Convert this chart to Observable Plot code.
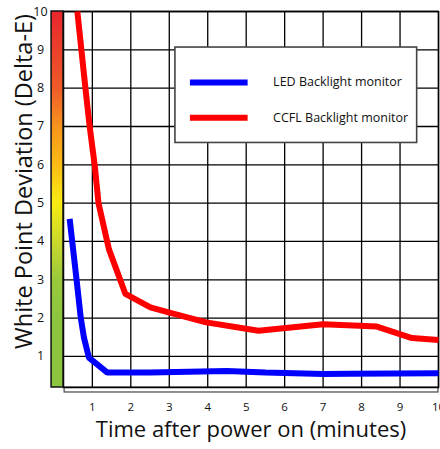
<!DOCTYPE html>
<html>
<head>
<meta charset="utf-8">
<script src="https://cdn.jsdelivr.net/npm/d3@7"></script>
<script src="https://cdn.jsdelivr.net/npm/@observablehq/plot@0.6"></script>
<style>
  html, body { margin: 0; padding: 0; background: #fff; }
  svg { display: block; }
</style>
</head>
<body>
<div id="chart"></div>
<script>
// ---- data ----
const ledX  = [0.41, 0.59, 0.70, 0.78, 0.91, 1.39, 2.5, 4.5, 5.5, 7.0, 7.7, 10];
const ledY  = [4.59, 3.0, 2.0, 1.5, 0.97, 0.58, 0.58, 0.62, 0.58, 0.54, 0.55, 0.56];
const ccflX = [0.61, 0.82, 0.93, 1.06, 1.16, 1.43, 1.86, 2.51, 2.98, 3.96, 5.32, 7.0, 8.4, 9.31, 10];
const ccflY = [10.0, 8.0, 7.0, 6.0, 5.0, 3.8, 2.63, 2.28, 2.15, 1.89, 1.67, 1.84, 1.78, 1.48, 1.43];
const seriesNames = ["LED Backlight monitor", "CCFL Backlight monitor"];
const seriesColors = ["#0000ff", "#ff0000"];
const xTicks = [1, 2, 3, 4, 5, 6, 7, 8, 9, 10];
const yTicks = [1, 2, 3, 4, 5, 6, 7, 8, 9, 10];
const xLabel = "Time after power on (minutes)";
const yLabel = "White Point Deviation (Delta-E)";
// colour bar stops (value, colour)
const barValues = [10, 8, 7, 6, 5, 4, 3, 2, 0.19];
const barColors = ["#e8262d", "#ef5a28", "#f7941d", "#fbbb15", "#f8ec12", "#cbd92c", "#9ac93b", "#8cc63f", "#8cc63f"];

// ---- layout (not data) ----
const xDomain = [0.25, 10];
const yDomain = [0.19, 10];
const font = "'Open Sans', sans-serif";

const led = ledX.map((x, i) => ({x, y: ledY[i], s: seriesNames[0]}));
const ccfl = ccflX.map((x, i) => ({x, y: ccflY[i], s: seriesNames[1]}));

// legend geometry in data units
const legendBox = {x1: 3.16, x2: 9.445, y1: 6.57, y2: 9.06};
const legendRows = [8.15, 7.23];
const legendItems = seriesNames.map((n, i) => ({name: n, color: seriesColors[i], y: legendRows[i]}));

const chart = Plot.plot({
  width: 440,
  height: 449,
  marginLeft: 63,
  marginRight: 2,
  marginTop: 11,
  marginBottom: 62,
  style: {fontFamily: font, background: "#fff", overflow: "visible"},
  x: {domain: xDomain},
  y: {domain: yDomain},
  marks: [
    // shadow box under plot
    Plot.rect([0], {x1: 0.28, x2: 10, y1: 0.06, y2: 0.19, fill: "white", stroke: "#555", strokeWidth: 1.3}),
    Plot.gridX(xTicks, {stroke: "#000", strokeOpacity: 1, strokeWidth: 1.3}),
    Plot.gridY(yTicks, {stroke: "#000", strokeOpacity: 1, strokeWidth: 1.3}),
    Plot.frame({stroke: "#000", strokeWidth: 1.5}),
    // colour bar
    Plot.rect([0], {x1: -0.06, x2: 0.25, y1: yDomain[0], y2: 10, fill: "url(#cbar)", stroke: "#111", strokeWidth: 1.5}),
    // legend box
    Plot.rect([legendBox], {x1: "x1", x2: "x2", y1: "y1", y2: "y2", fill: "white", stroke: "#444", strokeWidth: 1.6}),
    Plot.ruleY(legendItems, {y: "y", x1: 3.55, x2: 5.05, stroke: "color", strokeWidth: 6}),
    Plot.text(legendItems, {y: "y", x: 5.70, text: "name", textAnchor: "start", fontSize: 12.5, fill: "#111"}),
    // series
    Plot.line(led, {x: "x", y: "y", stroke: seriesColors[0], strokeWidth: 6, strokeLinejoin: "miter", strokeLinecap: "butt"}),
    Plot.line(ccfl, {x: "x", y: "y", stroke: seriesColors[1], strokeWidth: 6, strokeLinejoin: "miter", strokeLinecap: "butt"}),
    // axes
    Plot.axisY(yTicks, {tickSize: 0, tickPadding: 23, textAnchor: "middle", fontSize: 12.5, label: null, fill: "#111"}),
    Plot.axisX(xTicks, {tickSize: 0, tickPadding: 15, fontSize: 11.5, label: null, fill: "#111"}),
    Plot.text([xLabel], {frameAnchor: "bottom", dy: 49, fontSize: 22, fill: "#111"}),
    Plot.text([yLabel], {frameAnchor: "left", textAnchor: "middle", rotate: -90, dx: -39, dy: -18, fontSize: 23.5, fill: "#111"})
  ]
});

// gradient definition for the colour bar
const svg = d3.select(chart);
const defs = svg.insert("defs", ":first-child");
const grad = defs.append("linearGradient").attr("id", "cbar").attr("x1", 0).attr("y1", 0).attr("x2", 0).attr("y2", 1);
barValues.forEach((v, i) => {
  grad.append("stop")
    .attr("offset", (10 - v) / (10 - yDomain[0]))
    .attr("stop-color", barColors[i]);
});

document.getElementById("chart").appendChild(chart);
</script>
</body>
</html>
